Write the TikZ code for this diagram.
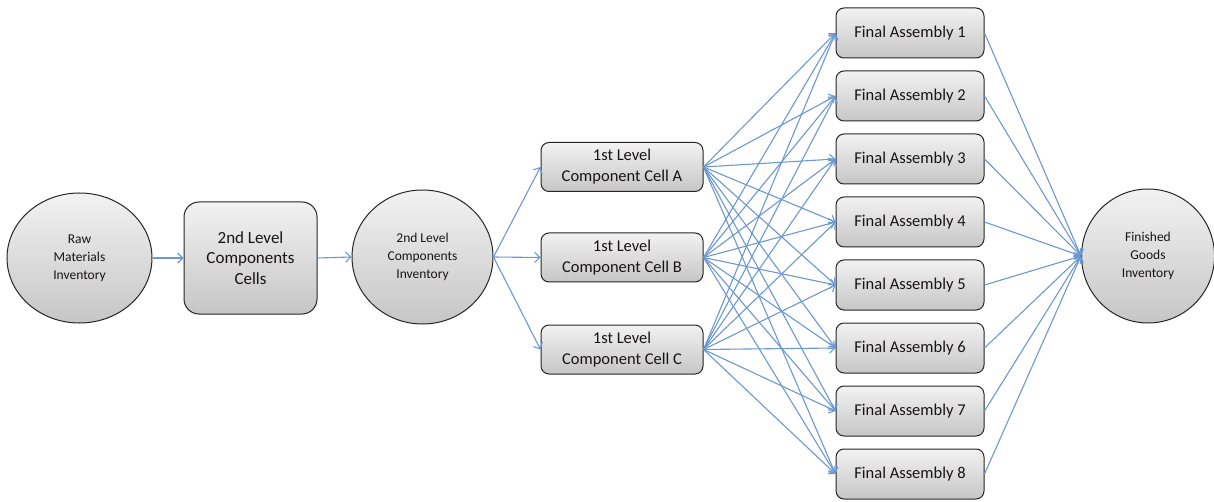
\documentclass[tikz,border=0pt]{standalone}
\usepackage{fontspec}
\setmainfont{Carlito}
\usetikzlibrary{arrows.meta,shapes.geometric}
\definecolor{connc}{RGB}{108,152,210}
\definecolor{txtc}{RGB}{25,20,20}
\definecolor{shtop}{RGB}{242,242,242}
\definecolor{shbot}{RGB}{198,198,198}
\begin{document}
\begin{tikzpicture}[x=1pt,y=-1pt,
  shaded/.style={draw=black!85, line width=1pt, top color=shtop, bottom color=shbot, text=txtc},
  circ/.style={shaded, ellipse, inner sep=0pt, align=center, font=\fontsize{13.5}{18}\selectfont},
  bigbox/.style={shaded, rounded corners=15pt, minimum width=133pt, minimum height=112pt, align=center, font=\fontsize{17}{20.5}\selectfont},
  cellbox/.style={shaded, rounded corners=8pt, minimum width=162pt, minimum height=49pt, align=center, font=\fontsize{16.5}{21}\selectfont},
  fabox/.style={shaded, rounded corners=8pt, minimum width=148pt, minimum height=50pt, font=\fontsize{16.5}{20}\selectfont},
  conn/.style={draw=connc, line width=1.1pt, -{Straight Barb[length=5pt,width=10pt]}}
]
\useasboundingbox (0,0) rectangle (1214,502);

\node[circ, minimum width=145pt, minimum height=130pt] (raw) at (79.5,258) {Raw\\Materials\\Inventory};
\node[bigbox] (cells) at (250.5,258) {2nd Level\\Components\\Cells};
\node[circ, minimum width=141pt, minimum height=134pt] (inv) at (422.5,257) {2nd Level\\Components\\Inventory};

\node[cellbox] (A) at (622,167) {1st Level\\Component Cell A};
\node[cellbox] (B) at (622,257.5) {1st Level\\Component Cell B};
\node[cellbox] (C) at (622,349.5) {1st Level\\Component Cell C};

\foreach \i in {1,...,8} {
  \node[fabox] (F\i) at (910,{33+63*(\i-1)}) {Final Assembly \i};
}

\node[circ, minimum width=133pt, minimum height=134pt] (fin) at (1148,256) {Finished\\Goods\\Inventory};

\draw[conn] (raw.east) -- (cells.west);
\draw[conn] (cells.east) -- (inv.west);
\foreach \c in {A,B,C} {
  \draw[conn] (inv.east) -- (\c.west);
  \foreach \i in {1,...,8} {
    \draw[conn] (\c.east) -- (F\i.west);
  }
}
\foreach \i in {1,...,8} {
  \draw[conn] (F\i.east) -- (fin.west);
}
\end{tikzpicture}
\end{document}
